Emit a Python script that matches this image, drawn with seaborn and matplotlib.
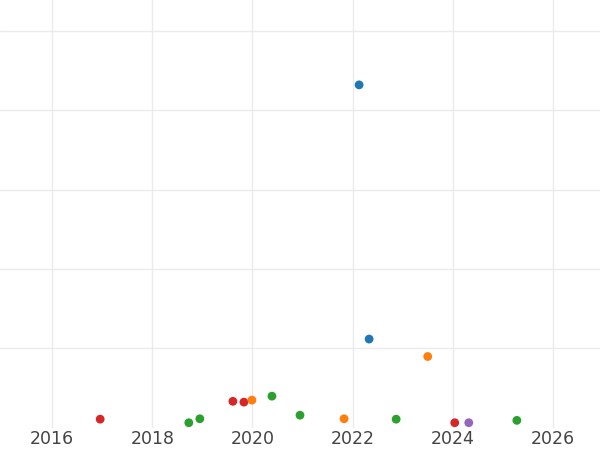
import pandas as pd
import matplotlib.pyplot as plt
import seaborn as sns

# Point data (year, value, group)
years = [2016.96, 2018.73, 2018.95, 2019.61, 2019.83, 2019.99, 2020.39, 2020.95,
         2021.83, 2022.13, 2022.33, 2022.87, 2023.50, 2024.04, 2024.32, 2025.28]
values = [2.1, 1.2, 2.2, 6.6, 6.4, 6.9, 7.9, 3.1,
          2.2, 86.4, 22.3, 2.1, 17.9, 1.2, 1.2, 1.8]
groups = ['D', 'C', 'C', 'D', 'D', 'B', 'C', 'C',
          'B', 'A', 'A', 'C', 'B', 'D', 'E', 'C']
group_order = ['A', 'B', 'C', 'D', 'E']

df = pd.DataFrame({'year': years, 'value': values, 'group': groups})

sns.set_theme(style='whitegrid')
fig = plt.figure(figsize=(6, 4.5), dpi=100)
ax = fig.add_axes([0, 0.05, 1, 0.95])

sns.scatterplot(data=df, x='year', y='value', hue='group', hue_order=group_order,
                palette='tab10', s=40, linewidth=0, legend=False, ax=ax)

ax.set_xlim(2014.96, 2026.94)
ax.set_ylim(0, 107.8)
ax.set_xticks([2016, 2018, 2020, 2022, 2024, 2026])
ax.set_yticks([20, 40, 60, 80, 100])
ax.set_yticklabels([])
ax.tick_params(axis='x', labelsize=12.5, colors='#444444', length=0, pad=2)
ax.tick_params(axis='y', length=0)
ax.grid(True, color='#ebebeb', linewidth=1)
ax.set_xlabel('')
ax.set_ylabel('')
for sp in ax.spines.values():
    sp.set_visible(False)

fig.savefig('out.png', dpi=100)
